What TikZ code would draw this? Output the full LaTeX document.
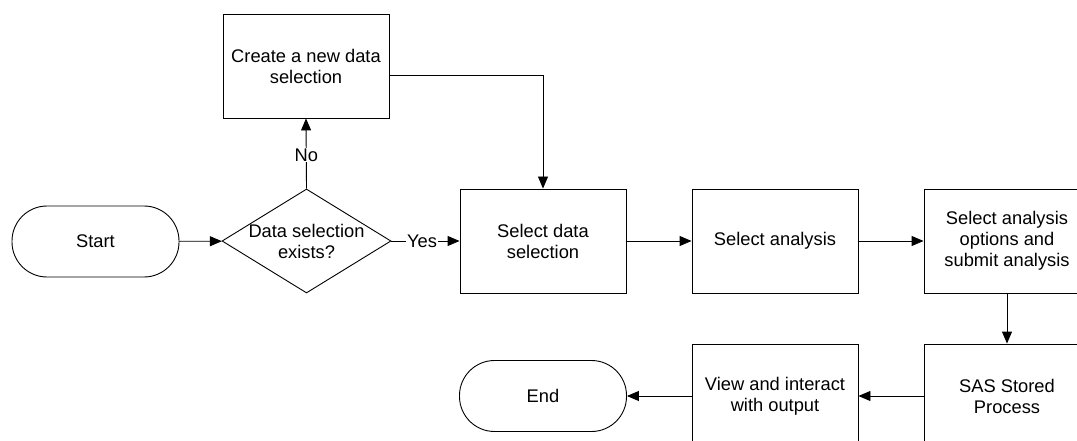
\documentclass[tikz,border=0pt]{standalone}
\usepackage{fontspec}
\setmainfont{Liberation Sans}
\usetikzlibrary{shapes.geometric,arrows.meta}

\tikzset{
  txt/.style={font=\fontsize{18.3}{21}\selectfont, align=center},
  procbox/.style={draw, line width=0.9pt, minimum width=166pt, minimum height=104pt,
    inner sep=0pt, txt},
  termbox/.style={draw, line width=0.9pt, rounded corners=35pt, minimum width=167pt,
    minimum height=71pt, inner sep=0pt, txt},
  decbox/.style={draw, diamond, line width=0.9pt, minimum width=169pt,
    minimum height=104pt, inner sep=0pt},
  flow/.style={line width=0.9pt, -{Triangle[length=12pt,width=10pt]}},
  lbl/.style={txt, fill=white, inner sep=1pt}
}

\begin{document}
\begin{tikzpicture}[x=1pt, y=-1pt]
  \useasboundingbox (0,0) rectangle (1077,441);
  \clip (0,0) rectangle (1077,441);

  % top row
  \node[termbox] (start) at (95.5,241.5) {Start};
  \node[decbox] (dec) at (306.5,241) {};
  \node[txt] at (dec.center) {Data selection\\exists?};
  \node[procbox] (create) at (306,66) {Create a new data\\selection};
  \node[procbox] (sel) at (543,241) {Select data\\selection};
  \node[procbox] (ana) at (775,241) {Select analysis};
  \node[procbox] (opt) at (1007,241) {Select analysis\\options and\\submit analysis};

  % bottom row
  \node[procbox] (sas) at (1007,396) {SAS Stored\\Process};
  \node[procbox] (view) at (775,396) {View and interact\\with output};
  \node[termbox] (end) at (543,396) {End};

  % connectors
  \draw[flow] (start) -- (dec);
  \draw[flow] (dec.north) -- node[lbl, pos=0.48] {No} (create.south);
  \draw[flow] (dec.east) -- node[lbl, pos=0.45] {Yes} (sel.west);
  \draw[flow] ([yshift=-9pt]create.east) -| (sel.north);
  \draw[flow] (sel) -- (ana);
  \draw[flow] (ana) -- (opt);
  \draw[flow] (opt) -- (sas);
  \draw[flow] (sas) -- (view);
  \draw[flow] (view) -- (end);
\end{tikzpicture}
\end{document}
